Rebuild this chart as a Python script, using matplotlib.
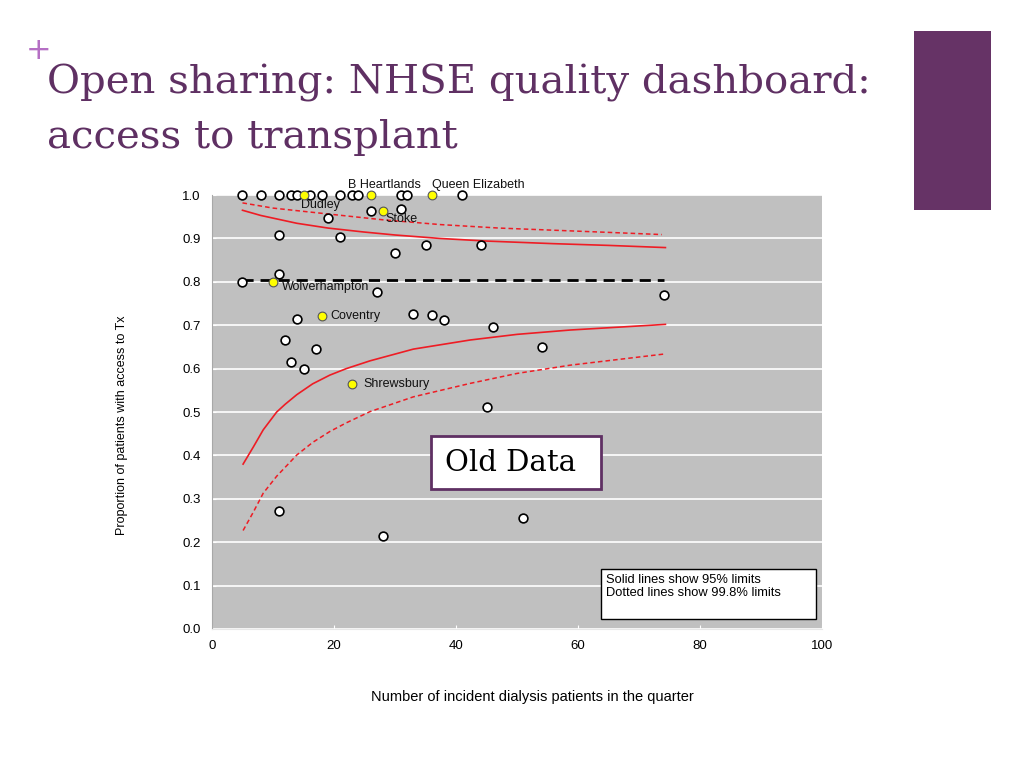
import matplotlib
matplotlib.use("Agg")
import matplotlib.pyplot as plt
from matplotlib.patches import Rectangle

# hospital units: x = incident patients in quarter, y = proportion with access to Tx
unit_x = [5, 8, 11, 13, 14, 16, 18, 21, 23, 24, 31, 32, 41,
          26, 31, 19, 11, 21, 35, 44, 30, 11, 5, 27, 74,
          14, 33, 36, 38, 46, 12, 17, 13, 15, 54, 45, 11, 28, 51]
unit_y = [1.0, 1.0, 1.0, 1.0, 1.0, 1.0, 1.0, 1.0, 1.0, 1.0, 1.0, 1.0, 1.0,
          0.963, 0.968, 0.948, 0.908, 0.904, 0.886, 0.886, 0.866, 0.819, 0.800, 0.777, 0.770,
          0.714, 0.727, 0.723, 0.711, 0.696, 0.667, 0.646, 0.615, 0.599, 0.650, 0.512, 0.273, 0.215, 0.256]

# highlighted (named) units
named = ["Dudley", "B Heartlands", "Queen Elizabeth", "Stoke", "Wolverhampton", "Coventry", "Shrewsbury"]
named_x = [15, 26, 36, 28, 10, 18, 23]
named_y = [1.0, 1.0, 1.0, 0.964, 0.799, 0.722, 0.565]

mean_x = [5, 74]
mean_p = [0.805, 0.805]

# funnel limits
up95_x = [5, 8, 13.9, 19, 24.8, 30, 37.4, 45, 56, 65, 74.3]
up95_y = [0.965, 0.953, 0.935, 0.924, 0.915, 0.908, 0.900, 0.894, 0.888, 0.884, 0.879]
up998_x = [5, 10, 19.3, 28, 37.4, 47, 56, 65, 73.7]
up998_y = [0.982, 0.970, 0.956, 0.943, 0.932, 0.924, 0.919, 0.914, 0.909]
lo95_x = [5.1, 6.8, 8.4, 10.6, 12, 13.9, 16.5, 19.3, 22, 25.9, 33, 42.3, 50, 58.7, 74.3]
lo95_y = [0.380, 0.420, 0.459, 0.500, 0.518, 0.540, 0.565, 0.585, 0.600, 0.618, 0.645, 0.666, 0.679, 0.689, 0.702]
lo998_x = [5.1, 6.8, 8.4, 10.6, 13.9, 16.5, 19.3, 22, 25.9, 33, 42.3, 50, 58.7, 74.3]
lo998_y = [0.227, 0.270, 0.313, 0.352, 0.401, 0.430, 0.455, 0.475, 0.501, 0.535, 0.566, 0.589, 0.608, 0.634]

purple = "#5f3063"
sans = ["Liberation Sans", "DejaVu Sans"]

fig = plt.figure(figsize=(10.24, 7.68), dpi=100)
fig.patch.set_facecolor("white")

# slide header
fig.text(0.038, 0.934, "+", color="#b56fc4", fontsize=22, ha="center", va="center")
fig.text(0.046, 0.892, "Open sharing: NHSE quality dashboard:", color=purple,
         fontsize=29, family="DejaVu Serif", ha="left", va="center")
fig.text(0.046, 0.821, "access to transplant", color=purple,
         fontsize=29, family="DejaVu Serif", ha="left", va="center")
fig.patches.append(Rectangle((0.893, 0.727), 0.075, 0.232, transform=fig.transFigure,
                             facecolor="#663366", edgecolor="none"))

ax = fig.add_axes([0.207, 0.181, 0.596, 0.565])
ax.set_facecolor("#c0c0c0")
ax.set_xlim(0, 100)
ax.set_ylim(0, 1.0)
ax.set_xticks(range(0, 101, 20))
ax.set_yticks([i / 10 for i in range(11)])
ax.set_yticklabels([f"{i / 10:.1f}" for i in range(11)])
ax.grid(axis="y", color="white", lw=1.2)
ax.set_axisbelow(True)
for s in ["top", "right"]:
    ax.spines[s].set_visible(False)
ax.spines["left"].set_color("#a8a8a8")
ax.spines["bottom"].set_color("#e8e8e8")
ax.tick_params(direction="in", colors="white", length=3, labelcolor="black", labelsize=9.5, pad=8)
for lab in ax.get_xticklabels() + ax.get_yticklabels():
    lab.set_family(sans)

red = "#ee1c24"
ax.plot(up95_x, up95_y, color=red, lw=1.2)
ax.plot(lo95_x, lo95_y, color=red, lw=1.2)
ax.plot(up998_x, up998_y, color=red, lw=1.1, dashes=(3, 2))
ax.plot(lo998_x, lo998_y, color=red, lw=1.1, dashes=(3, 2))
ax.plot(mean_x, mean_p, color="black", lw=2, dashes=(4, 2.5))

ax.plot(unit_x, unit_y, "o", ms=6.3, mfc="white", mec="black", mew=1.2, clip_on=False, zorder=5)
ax.plot(named_x, named_y, "o", ms=6.3, mfc="#ffff00", mec="#555555", mew=0.8, clip_on=False, zorder=5)

offsets = [(-3, -10, "left"), (14, 10, "center"), (0, 10, "left"), (3, -8, "left"),
           (9, -5, "left"), (9, 0, "left"), (11, 0, "left")]
for name, x, y, (dx, dy, ha) in zip(named, named_x, named_y, offsets):
    ax.annotate(name, (x, y), xytext=(dx, dy), textcoords="offset pixels",
                ha=ha, va="center", fontsize=9, family=sans, color="#111111",
                annotation_clip=False)

ax.set_xlabel("Number of incident dialysis patients in the quarter", fontsize=10.5, family=sans)
ax.xaxis.set_label_coords(0.525, -0.14)
ax.set_ylabel("Proportion of patients with access to Tx", fontsize=9, family=sans)
ax.yaxis.set_label_coords(-0.138, 0.47)

# note box
ax.add_patch(Rectangle((0.638, 0.023), 0.351, 0.115, transform=ax.transAxes,
                       facecolor="white", edgecolor="black", lw=1, zorder=6))
ax.text(0.645, 0.127, "Solid lines show 95% limits\nDotted lines show 99.8% limits",
        transform=ax.transAxes, ha="left", va="top", fontsize=9.3, family=sans,
        linespacing=1.15, zorder=7)

# "Old Data" overlay
fig.patches.append(Rectangle((0.421, 0.363), 0.166, 0.069, transform=fig.transFigure,
                             facecolor="white", edgecolor=purple, lw=2, zorder=10))
fig.text(0.499, 0.397, "Old Data", fontsize=21, family="DejaVu Serif", ha="center", va="center",
         color="black", zorder=11)

fig.savefig("out.png", dpi=100)
